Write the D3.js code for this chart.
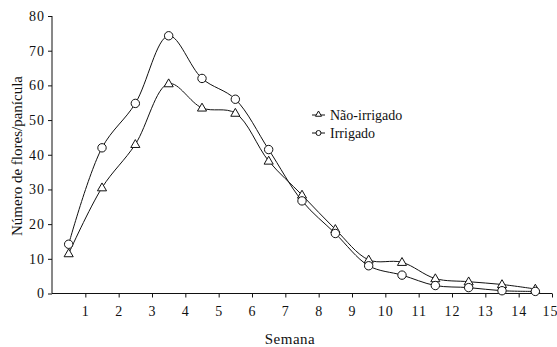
<!DOCTYPE html>
<html>
<head>
<meta charset="utf-8">
<script src="https://cdn.jsdelivr.net/npm/d3@7"></script>
<style>
  body { margin: 0; background: #fff; }
  svg text { font-family: "Times New Roman", "Liberation Serif", serif; fill: #111; }
</style>
</head>
<body>
<svg id="chart" width="557" height="347"></svg>
<script>
// semanas (meio de cada intervalo)
var semanas = [0.5, 1.5, 2.5, 3.5, 4.5, 5.5, 6.5, 7.5, 8.5, 9.5, 10.5, 11.5, 12.5, 13.5, 14.5];
// número de flores por panícula
var naoIrrigado = [11.5, 30.5, 43, 60.5, 53.5, 52, 38.2, 28.4, 18.5, 9.7, 9.0, 4.3, 3.4, 2.6, 1.3];
var irrigado = [14.2, 42, 54.8, 74.3, 62, 56, 41.5, 26.7, 17.3, 8, 5.3, 2.3, 1.7, 0.8, 0.6];
var xTicks = d3.range(1, 16);
var yTicks = d3.range(0, 90, 10);

var svg = d3.select("#chart");
var m = {left: 52, top: 16};

var x = d3.scaleLinear().domain([0, 15]).range([m.left, 552]);
var y = d3.scaleLinear().domain([0, 80]).range([293.5, m.top]);

// eixo x
var xAxis = svg.append("g")
  .attr("transform", "translate(0," + y(0) + ")")
  .call(d3.axisBottom(x).tickValues(xTicks).tickSize(4).tickPadding(9).tickFormat(d3.format("d")));
xAxis.select(".domain").attr("d", "M" + x(0) + ",0H" + x(15));
// o último rótulo encosta na borda
xAxis.selectAll(".tick text").filter(function(d){ return d == 15; }).attr("dx", "-2");

// eixo y
var yAxis = svg.append("g")
  .attr("transform", "translate(" + x(0) + ",0)")
  .call(d3.axisLeft(y).tickValues(yTicks).tickSize(4).tickPadding(3));
yAxis.select(".domain").attr("d", "M0," + y(0) + "V" + y(80));

svg.selectAll(".tick text").style("font-size", "14px").style("letter-spacing", "1px")
  .style("font-family", "Times New Roman, Liberation Serif, serif");
svg.selectAll(".domain, .tick line").attr("stroke", "#111");

// títulos
svg.append("text")
  .attr("x", 290).attr("y", 344)
  .attr("text-anchor", "middle")
  .style("font-size", "15px")
  .style("letter-spacing", "0.5px")
  .text("Semana");

svg.append("text")
  .attr("transform", "translate(22," + 156 + ") rotate(-90)")
  .attr("text-anchor", "middle")
  .style("font-size", "15px")
  .text("Número de flores/panícula");

var line = d3.line()
  .x(function(d){ return x(d[0]); })
  .y(function(d){ return y(d[1]); })
  .curve(d3.curveCatmullRom.alpha(0.5));

function serie(vals){
  return semanas.map(function(s, i){ return [s, vals[i]]; });
}

var tri = d3.symbol().type(d3.symbolTriangle).size(36);

[[naoIrrigado, "tri"], [irrigado, "circ"]].forEach(function(s){
  var pts = serie(s[0]);
  svg.append("path")
    .datum(pts)
    .attr("d", line)
    .attr("fill", "none")
    .attr("stroke", "#111")
    .attr("stroke-width", 1);
  var g = svg.append("g");
  if(s[1] == "tri"){
    g.selectAll("path").data(pts).enter().append("path")
      .attr("d", tri)
      .attr("transform", function(d){ return "translate(" + x(d[0]) + "," + (y(d[1]) + 0.5) + ")"; })
      .attr("fill", "#fff").attr("stroke", "#111");
  } else {
    g.selectAll("circle").data(pts).enter().append("circle")
      .attr("cx", function(d){ return x(d[0]); })
      .attr("cy", function(d){ return y(d[1]); })
      .attr("r", 4.2)
      .attr("fill", "#fff").attr("stroke", "#111");
  }
});

// legenda
var leg = svg.append("g");
var itens = [["Não-irrigado", "tri"], ["Irrigado", "circ"]];
itens.forEach(function(it, i){
  var yy = 115 + i * 18;
  leg.append("line").attr("x1", 312).attr("x2", 325).attr("y1", yy).attr("y2", yy).attr("stroke", "#111");
  if(it[1] == "tri"){
    leg.append("path").attr("d", d3.symbol().type(d3.symbolTriangle).size(16))
      .attr("transform", "translate(318.5," + (yy - 0.5) + ")")
      .attr("fill", "#fff").attr("stroke", "#111");
  } else {
    leg.append("circle").attr("cx", 318.5).attr("cy", yy).attr("r", 2.5)
      .attr("fill", "#fff").attr("stroke", "#111");
  }
  leg.append("text").attr("x", 330).attr("y", yy + 5)
    .style("font-size", "14px")
    .text(it[0]);
});
</script>
</body>
</html>
